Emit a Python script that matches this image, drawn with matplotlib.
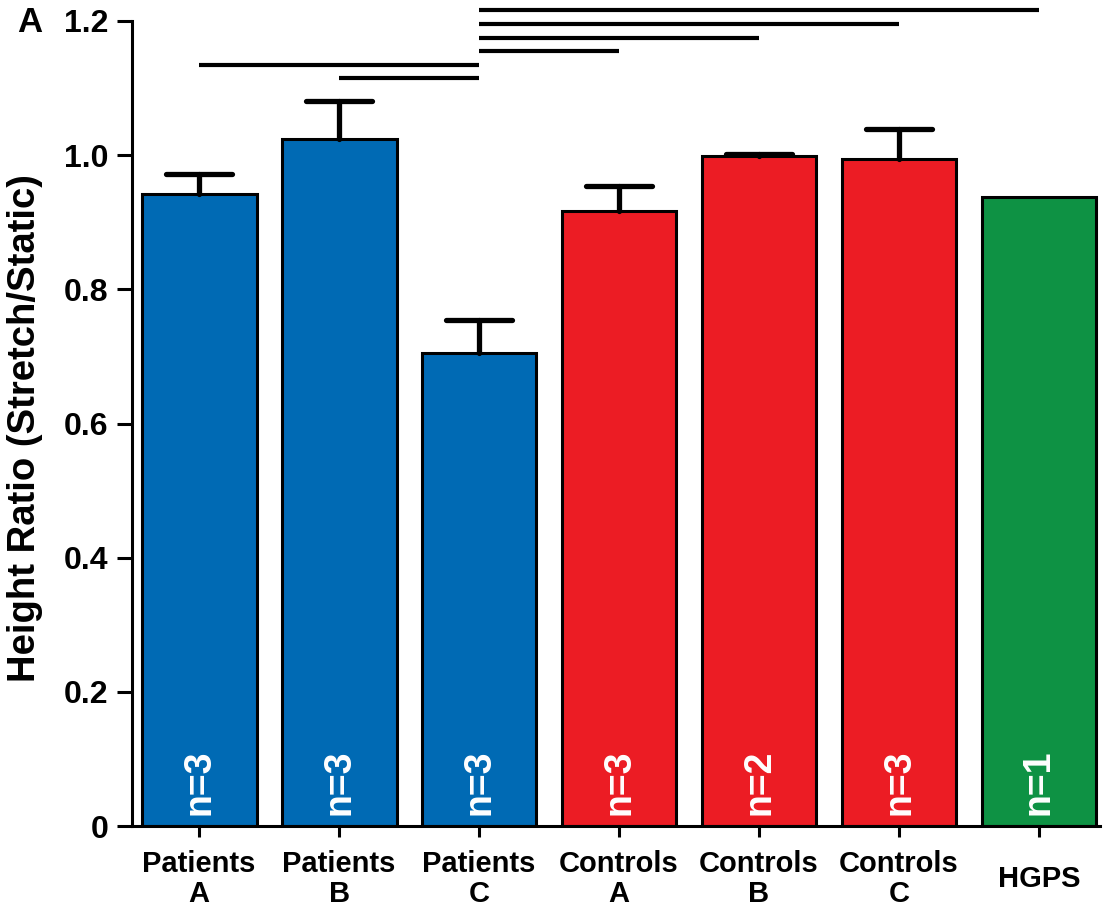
import matplotlib
matplotlib.use("Agg")
import matplotlib.pyplot as plt

plt.rcParams['font.family'] = ['Liberation Sans', 'DejaVu Sans']
plt.rcParams['font.weight'] = 'bold'

# Group labels, means, upper error (SEM) and sample sizes
categories = ["Patients\nA", "Patients\nB", "Patients\nC",
              "Controls\nA", "Controls\nB", "Controls\nC", "HGPS"]
means = [0.942, 1.024, 0.705, 0.917, 0.999, 0.994, 0.937]
errors = [0.030, 0.056, 0.049, 0.037, 0.002, 0.045, 0.0]
n_labels = ["n=3", "n=3", "n=3", "n=3", "n=2", "n=3", "n=1"]
y_ticks = [0, 0.2, 0.4, 0.6, 0.8, 1.0, 1.2]
y_tick_labels = ["0", "0.2", "0.4", "0.6", "0.8", "1.0", "1.2"]

# Significance brackets: (start group, end group, height)
sig_pairs = [(2, 6, 1.216), (2, 5, 1.195), (2, 4, 1.174),
             (2, 3, 1.155), (0, 2, 1.134), (1, 2, 1.115)]

BLUE = "#006AB4"
RED = "#EC1C24"
GREEN = "#0E9244"
colors = [BLUE, BLUE, BLUE, RED, RED, RED, GREEN]

fig = plt.figure(figsize=(11.06, 9.11), dpi=100)
ax = fig.add_axes([132 / 1106, 85 / 911, 968 / 1106, 805 / 911])

x = list(range(len(categories)))
ax.bar(x, means, width=0.82, color=colors, edgecolor="black",
       linewidth=2.2, zorder=2)

# Upward-only error bars with rounded caps
for xi, m, e in zip(x, means, errors):
    if e <= 0:
        continue
    ax.vlines(xi, m, m + e, color="black", linewidth=3.8, zorder=3,
              capstyle="round")
    ax.hlines(m + e, xi - 0.235, xi + 0.235, color="black", linewidth=3.8,
              zorder=3, capstyle="round")

# Sample size labels inside bars
for xi, lab in zip(x, n_labels):
    ax.text(xi, 0.016, lab, rotation=90, ha="center", va="bottom",
            color="white", fontsize=27, fontweight="bold", zorder=4)

# Significance lines
for a, b, h in sig_pairs:
    ax.hlines(h, a, b, color="black", linewidth=3.0, clip_on=False, zorder=3)

ax.set_xlim(-0.48, 6.436)
ax.set_ylim(0, 1.2)
ax.set_yticks(y_ticks)
ax.set_yticklabels(y_tick_labels, fontsize=23, fontweight="bold")
ax.set_xticks(x)
ax.set_xticklabels(categories, fontsize=21, fontweight="bold",
                   linespacing=1.1)
for lab in ax.get_xticklabels():
    lab.set_verticalalignment("center")

ax.tick_params(axis="y", length=11, width=2.2, pad=6)
ax.tick_params(axis="x", length=8, width=2.2, pad=30)

for side in ("top", "right"):
    ax.spines[side].set_visible(False)
for side in ("left", "bottom"):
    ax.spines[side].set_linewidth(2.2)

fig.text(25 / 1106, 1 - 428 / 911, "Height Ratio (Stretch/Static)",
         rotation=90, ha="center", va="center", fontsize=27.5,
         fontweight="bold")
fig.text(30 / 1106, 1 - 23 / 911, "A", ha="center", va="center",
         fontsize=25, fontweight="bold")

fig.savefig("out.png", dpi=100)
